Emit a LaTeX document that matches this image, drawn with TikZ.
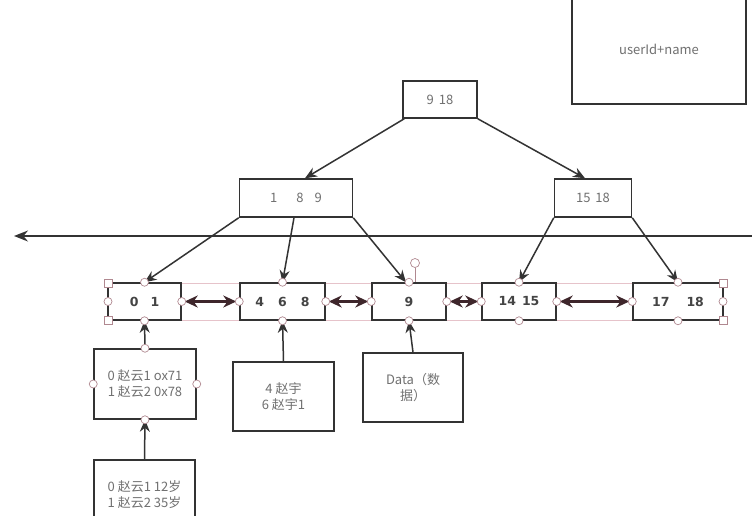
\documentclass[tikz,border=0pt]{standalone}
\usepackage{fontspec}
\setmainfont{Noto Sans CJK SC}
\newfontfamily\leaffont{DejaVu Sans}
\usetikzlibrary{arrows.meta}
\definecolor{boxc}{HTML}{333333}
\definecolor{txtc}{HTML}{707070}
\definecolor{leaftc}{HTML}{444444}
\definecolor{pinkl}{HTML}{E6C3CA}
\definecolor{handc}{HTML}{B08890}
\definecolor{dbl}{HTML}{3E262B}
\tikzset{
  box/.style={draw=boxc, line width=1.5pt, inner sep=0pt, fill=white, text=txtc, font=\fontsize{13}{16}\selectfont, align=center},
  leaf/.style={box, minimum height=37pt, text=leaftc, font=\leaffont\bfseries\fontsize{12.5}{14}\selectfont},
  arr/.style={draw=boxc, line width=1.5pt, -{Stealth[length=12pt,width=10pt]}},
  dblarr/.style={draw=dbl, line width=3pt, {Stealth[length=13pt,width=12pt]}-{Stealth[length=13pt,width=12pt]}, shorten <=3pt, shorten >=3pt},
  hcirc/.style={circle, draw=handc, fill=white, line width=0.7pt, inner sep=0pt, minimum size=8pt},
  hsq/.style={rectangle, draw=handc, fill=white, line width=0.7pt, inner sep=0pt, minimum size=8pt},
}
\begin{document}
\begin{tikzpicture}[x=1pt,y=-1pt]
\useasboundingbox (0,0) rectangle (752,515);
\clip (0,0) rectangle (752,515);
\fill[white] (0,0) rectangle (752,515);

% top-right box
\node[box, minimum width=174pt, minimum height=109pt, font=\fontsize{13}{15}\selectfont] (uid) at (659,49.5) {userId+name};

% inner nodes
\node[box, minimum width=74pt, minimum height=37pt] (root) at (440,99.5) {9\hspace{5pt}18};
\node[box, minimum width=113pt, minimum height=38pt] (n189) at (296,198) {1\hspace{19pt}8\hspace{11pt}9};
\node[box, minimum width=77pt, minimum height=38pt] (n1518) at (593,198) {15\hspace{5pt}18};

% horizontal line
\coordinate (hlr) at (752,236);
\coordinate (hll) at (14,236);
\draw[draw=boxc, line width=1.5pt, -{Stealth[length=14pt,width=11pt]}] (hlr) -- (hll);

% selection lines
\draw[pinkl, line width=0.7pt] (108,283) -- (723,283);
\draw[pinkl, line width=0.7pt] (108,320) -- (723,320);
\draw[handc, line width=0.7pt] (108,283) -- (108,320);
\draw[handc, line width=0.7pt] (723,283) -- (723,320);
\coordinate (rotb) at (415,283);
\node[hcirc, minimum size=9pt] (rot) at (415,263) {};
\draw[handc, line width=0.7pt] (rot) -- (rotb);

% leaves
\node[leaf, minimum width=73pt] (l01) at (144.5,301.5) {0\hspace{12pt}1};
\node[leaf, minimum width=85pt] (l468) at (282.5,301.5) {4\hspace{14pt}6\hspace{14pt}8};
\node[leaf, minimum width=74pt] (l9) at (409,301.5) {9};
\node[leaf, minimum width=74pt] (l1415) at (519,301.5) {14\hspace{6pt}15};
\node[leaf, minimum width=90pt] (l1718) at (678,301.5) {17\hspace{17pt}18};

% data boxes
\node[box, minimum width=102pt, minimum height=70pt] (d1) at (145,384) {0 赵云1 ox71\\1 赵云2 0x78};
\node[box, minimum width=101pt, minimum height=70pt] (d2) at (144.5,495) {0 赵云1 12岁\\1 赵云2 35岁};
\node[box, minimum width=101pt, minimum height=69pt] (d3) at (283.5,396.5) {4 赵宇\\6 赵宇1};
\node[box, minimum width=100pt, minimum height=69pt] (d4) at (413,387.5) {Data（数\\据）};

% tree arrows
\draw[arr] ([xshift=2pt]root.south west) -- ([xshift=9pt]n189.north);
\draw[arr] (root.south east) -- ([xshift=-8pt]n1518.north);
\draw[arr] (n189.south west) -- (l01.north);
\draw[arr] ([xshift=-2pt]n189.south) -- (l468.north);
\draw[arr] (n189.south east) -- ([xshift=-3pt]l9.north);
\draw[arr] (n1518.south west) -- (l1415.north);
\draw[arr] (n1518.south east) -- (l1718.north);

% data arrows
\draw[arr] (d1.north) -- (l01.south);
\draw[arr] (d2.north) -- (d1.south);
\draw[arr] (d3.north) -- (l468.south);
\draw[arr] (d4.north) -- (l9.south);

% leaf links
\draw[dblarr] (l01.east) -- (l468.west);
\draw[dblarr] (l468.east) -- (l9.west);
\draw[dblarr] (l9.east) -- (l1415.west);
\draw[dblarr] (l1415.east) -- (l1718.west);

% handles
\foreach \n in {l01,l468,l9,l1415,l1718}{
  \node[hcirc] at (\n.north) {};
  \node[hcirc] at (\n.south) {};
}
\foreach \n in {l01,l468,l9,l1415}{
  \node[hcirc] at (\n.east) {};
}
\foreach \n in {l468,l9,l1415,l1718}{
  \node[hcirc] at (\n.west) {};
}
\node[hsq] at (108,283) {};
\node[hsq] at (108,320) {};
\node[hsq] at (723,283) {};
\node[hsq] at (723,320) {};
\node[hcirc] at (108,301.5) {};
\node[hcirc] at (723,301.5) {};
\foreach \a in {north,south,east,west}{
  \node[hcirc] at (d1.\a) {};
}
\end{tikzpicture}
\end{document}
